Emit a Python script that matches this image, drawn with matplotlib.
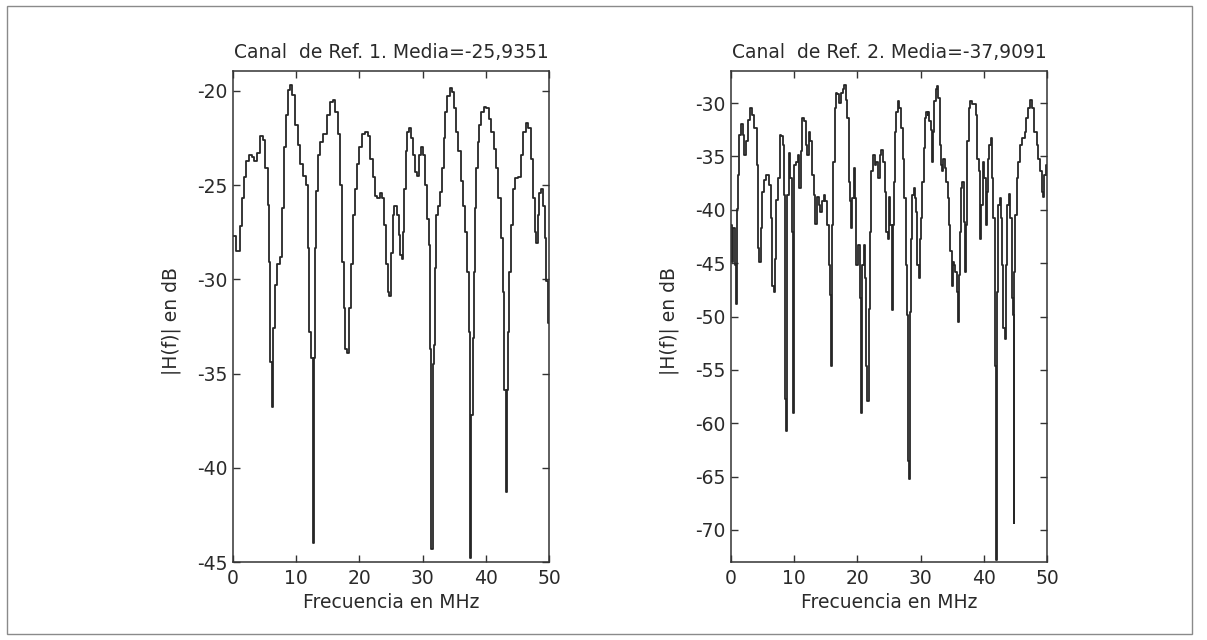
import matplotlib
matplotlib.use("Agg")
import matplotlib.pyplot as plt
from matplotlib.patches import Rectangle

plt.rcParams['font.family'] = ['DejaVu Sans']
plt.rcParams['axes.unicode_minus'] = False

# ---- data ----
freq1 = [0.0, 0.8, 1.3, 1.6, 1.9, 2.3, 2.7, 3.2, 3.6, 4.0, 4.5, 4.9, 5.3, 5.7, 5.85, 6.0, 6.2, 6.5, 6.8, 7.2,
         7.6, 7.9, 8.2, 8.6, 8.9, 9.2, 9.6, 10.1, 10.5, 10.8, 11.3, 11.7, 12.0, 12.2, 12.5, 12.7, 12.9, 13.1, 13.3, 13.6,
         14.0, 14.6, 15.2, 15.6, 16.0, 16.3, 16.8, 17.1, 17.4, 17.7, 17.9, 18.2, 18.5, 18.8, 19.2, 19.4, 19.8, 20.2, 20.7, 21.2,
         21.5, 21.9, 22.3, 22.7, 23.0, 23.4, 23.8, 24.1, 24.4, 24.6, 24.8, 25.1, 25.4, 25.7, 26.1, 26.4, 26.6, 26.9, 27.0, 27.2,
         27.4, 27.7, 27.9, 28.3, 28.7, 29.0, 29.3, 29.6, 29.9, 30.3, 30.6, 30.8, 31.1, 31.3, 31.5, 31.7, 31.8, 32.0, 32.3, 32.6,
         32.9, 33.2, 33.5, 33.7, 34.1, 34.5, 34.8, 35.2, 35.5, 35.8, 36.2, 36.6, 36.9, 37.2, 37.4, 37.5, 37.6, 37.8, 38.0, 38.2,
         38.4, 38.6, 38.8, 39.1, 39.5, 39.9, 40.3, 40.7, 41.1, 41.5, 41.8, 42.2, 42.5, 42.8, 43.1, 43.2, 43.4, 43.6, 43.8, 44.1,
         44.4, 44.8, 45.3, 45.7, 46.1, 46.5, 46.9, 47.3, 47.6, 47.9, 48.1, 48.3, 48.6, 48.9, 49.2, 49.4, 49.6, 50.0]
h1 = [-27.7, -28.5, -27.2, -25.7, -24.6, -23.75, -23.4, -23.5, -23.75, -23.3, -22.4, -22.6, -24.1, -26.05, -29.1, -34.4, -36.8, -32.6, -30.3, -29.2,
      -28.8, -26.2, -23.0, -21.3, -19.95, -19.7, -20.2, -21.8, -22.9, -23.9, -24.5, -25.0, -28.35, -32.8, -34.2, -44.0, -34.2, -28.35, -25.3, -23.4,
      -22.7, -22.3, -21.3, -20.6, -20.5, -21.1, -22.3, -25.0, -29.1, -31.5, -33.7, -33.9, -31.5, -29.2, -26.6, -25.2, -23.9, -23.0, -22.3, -22.2,
      -22.4, -23.6, -24.6, -25.6, -25.7, -25.4, -25.7, -27.1, -29.2, -30.65, -30.9, -28.6, -26.6, -26.1, -26.6, -27.65, -28.7, -28.9, -27.5, -25.2,
      -23.2, -22.2, -22.0, -22.5, -23.4, -24.3, -24.5, -23.4, -23.0, -23.4, -25.0, -26.8, -28.2, -33.7, -44.3, -34.5, -33.5, -29.4, -26.6, -26.1,
      -25.35, -24.1, -22.5, -21.1, -20.3, -19.85, -20.05, -20.9, -22.2, -23.2, -24.8, -26.1, -27.5, -29.6, -32.8, -37.2, -44.8, -37.2, -33.1, -29.6,
      -26.2, -24.1, -22.7, -21.8, -21.1, -20.85, -20.9, -21.5, -22.2, -23.1, -24.1, -25.7, -27.8, -30.65, -35.9, -41.3, -35.9, -32.8, -29.6, -27.1,
      -25.2, -24.65, -24.6, -23.4, -22.2, -21.7, -22.0, -23.6, -25.7, -27.5, -28.1, -26.6, -25.4, -25.2, -26.1, -27.8, -30.1, -32.3]

freq2 = [0.0, 0.28, 0.5, 0.67, 0.79, 0.96, 1.07, 1.24, 1.4, 1.7, 1.97, 2.25, 2.5, 2.8, 3.1, 3.5, 3.9, 4.2, 4.4, 4.6,
         4.8, 5.1, 5.3, 5.8, 6.2, 6.5, 6.6, 6.85, 7.0, 7.3, 7.6, 7.9, 8.0, 8.3, 8.4, 8.6, 8.8, 9.0, 9.3, 9.5,
         9.7, 9.94, 10.15, 10.5, 10.7, 10.9, 11.1, 11.4, 11.7, 11.9, 12.2, 12.4, 12.7, 13.0, 13.2, 13.5, 13.75, 14.0, 14.3, 14.5,
         14.8, 15.05, 15.3, 15.6, 15.7, 15.9, 16.1, 16.3, 16.5, 16.7, 16.9, 17.2, 17.5, 17.8, 18.1, 18.3, 18.5, 18.7, 18.9, 19.1,
         19.3, 19.5, 19.7, 19.95, 20.3, 20.5, 20.7, 20.9, 21.1, 21.3, 21.4, 21.7, 21.9, 22.1, 22.3, 22.6, 22.9, 23.1, 23.4, 23.6,
         23.9, 24.2, 24.4, 24.7, 24.9, 25.1, 25.3, 25.5, 25.7, 25.9, 26.05, 26.3, 26.5, 26.8, 27.05, 27.3, 27.6, 27.8, 28.0, 28.1,
         28.3, 28.4, 28.6, 28.8, 29.05, 29.2, 29.4, 29.6, 29.8, 30.0, 30.2, 30.4, 30.6, 30.8, 31.0, 31.2, 31.3, 31.5, 31.7, 31.8,
         32.05, 32.3, 32.5, 32.7, 32.9, 33.1, 33.3, 33.5, 33.7, 33.9, 34.2, 34.4, 34.6, 34.8, 35.0, 35.2, 35.4, 35.6, 35.8, 36.0,
         36.2, 36.3, 36.5, 36.7, 36.9, 37.2, 37.3, 37.5, 37.7, 37.9, 38.3, 38.6, 38.9, 39.1, 39.3, 39.5, 39.7, 39.9, 40.2, 40.4,
         40.6, 40.8, 41.0, 41.2, 41.4, 41.6, 41.8, 41.9, 42.05, 42.2, 42.4, 42.6, 42.8, 43.0, 43.2, 43.4, 43.6, 43.8, 44.05, 44.3,
         44.5, 44.6, 44.8, 44.9, 45.1, 45.3, 45.6, 45.9, 46.3, 46.6, 46.9, 47.2, 47.5, 47.8, 48.2, 48.5, 48.8, 49.05, 49.3, 49.5,
         49.7, 49.9, 50.0]
h2 = [-41.4, -44.9, -41.7, -45.2, -48.8, -44.9, -39.9, -36.7, -33.0, -32.0, -33.0, -34.9, -33.6, -31.6, -30.5, -31.1, -32.35, -35.8, -43.6, -44.9,
      -41.7, -38.3, -37.2, -36.7, -37.7, -40.8, -47.1, -47.7, -44.6, -39.1, -37.0, -33.0, -33.1, -33.9, -38.6, -57.7, -60.7, -38.6, -34.7, -37.0,
      -42.1, -59.0, -35.8, -35.5, -34.9, -38.0, -34.5, -31.4, -31.7, -33.9, -34.9, -32.7, -33.6, -36.7, -38.6, -41.3, -38.8, -39.6, -40.2, -39.2,
      -38.6, -39.2, -41.4, -45.2, -48.0, -54.6, -41.4, -35.5, -30.5, -29.1, -29.2, -30.0, -29.1, -28.7, -28.3, -29.7, -31.4, -37.4, -39.2, -41.7,
      -38.9, -36.1, -38.9, -45.2, -43.3, -48.3, -59.0, -45.2, -43.3, -46.4, -54.6, -57.9, -49.3, -42.1, -36.4, -34.9, -35.8, -35.5, -37.0, -34.9,
      -34.4, -35.5, -38.3, -42.1, -42.7, -38.8, -41.4, -49.4, -41.4, -37.4, -32.7, -30.8, -29.8, -30.5, -32.35, -35.2, -38.9, -45.2, -49.9, -63.5,
      -65.2, -49.6, -42.7, -38.6, -38.0, -38.9, -40.2, -45.2, -46.4, -42.7, -40.8, -37.4, -34.2, -31.4, -30.8, -31.1, -30.8, -31.7, -32.5, -35.5,
      -32.7, -29.8, -28.7, -28.4, -29.5, -33.9, -35.8, -36.4, -35.2, -36.1, -37.4, -38.9, -41.4, -43.9, -47.1, -44.9, -45.2, -45.8, -47.7, -50.5,
      -46.1, -42.1, -38.0, -37.4, -41.1, -45.8, -41.4, -33.6, -30.5, -29.8, -30.1, -30.1, -31.1, -35.2, -36.4, -42.7, -39.6, -35.5, -37.0, -41.4,
      -38.3, -35.2, -33.9, -33.3, -37.0, -40.8, -40.8, -54.6, -72.8, -47.7, -39.6, -38.9, -40.8, -45.2, -51.1, -52.1, -45.2, -39.6, -38.5, -40.8,
      -48.3, -49.9, -69.3, -45.8, -40.5, -37.0, -35.5, -33.9, -33.3, -32.7, -31.4, -30.5, -29.7, -30.5, -32.7, -33.9, -35.2, -36.4, -38.3, -38.8,
      -36.7, -35.8, -36.7]

titles = ["Canal  de Ref. 1. Media=-25,9351", "Canal  de Ref. 2. Media=-37,9091"]
xlabel = "Frecuencia en MHz"
ylabel = "|H(f)| en dB"
xticks = [0, 10, 20, 30, 40, 50]
yticks1 = [-45, -40, -35, -30, -25, -20]
yticks2 = [-70, -65, -60, -55, -50, -45, -40, -35, -30]
ylims = [(-45, -18.95), (-73, -27)]

W, H = 1207, 640
fig = plt.figure(figsize=(W / 100, H / 100), dpi=100)
fig.patch.set_facecolor('white')

txt = '#2a2a2a'
fs = 13.5
axes_px = [(233, 71, 549, 562), (731, 71, 1047, 562)]
series = [(freq1, h1, yticks1), (freq2, h2, yticks2)]

for i, ((l, t, r, b), (fx, hy, yt)) in enumerate(zip(axes_px, series)):
    ax = fig.add_axes([l / W, 1 - b / H, (r - l) / W, (b - t) / H])
    ax.plot(fx, hy, color='#262626', lw=1.3, drawstyle='steps-mid')
    ax.set_xlim(0, 50)
    ax.set_ylim(*ylims[i])
    ax.set_xticks(xticks)
    ax.set_yticks(yt)
    ax.tick_params(direction='in', top=True, right=True, length=5, width=1,
                   labelsize=fs, colors='#333333', labelcolor=txt)
    ax.tick_params(axis='x', pad=5)
    ax.tick_params(axis='y', pad=4)
    for s in ax.spines.values():
        s.set_color('#333333')
        s.set_linewidth(1.1)
    ax.set_title(titles[i], fontsize=fs, color=txt, pad=9)
    ax.set_xlabel(xlabel, fontsize=fs, color=txt)
    ax.set_ylabel(ylabel, fontsize=fs, color=txt)
    ax.xaxis.set_label_coords(0.5, -0.064)
    ax.yaxis.set_label_coords(-0.165, 0.49)

# outer frame
fig.patches.append(Rectangle((7 / W, 1 - 634 / H), (1192 - 7) / W, (634 - 6) / H,
                             transform=fig.transFigure, fill=False,
                             edgecolor='#8a8a8a', lw=1.0))

fig.savefig('out.png', dpi=100, facecolor='white')
